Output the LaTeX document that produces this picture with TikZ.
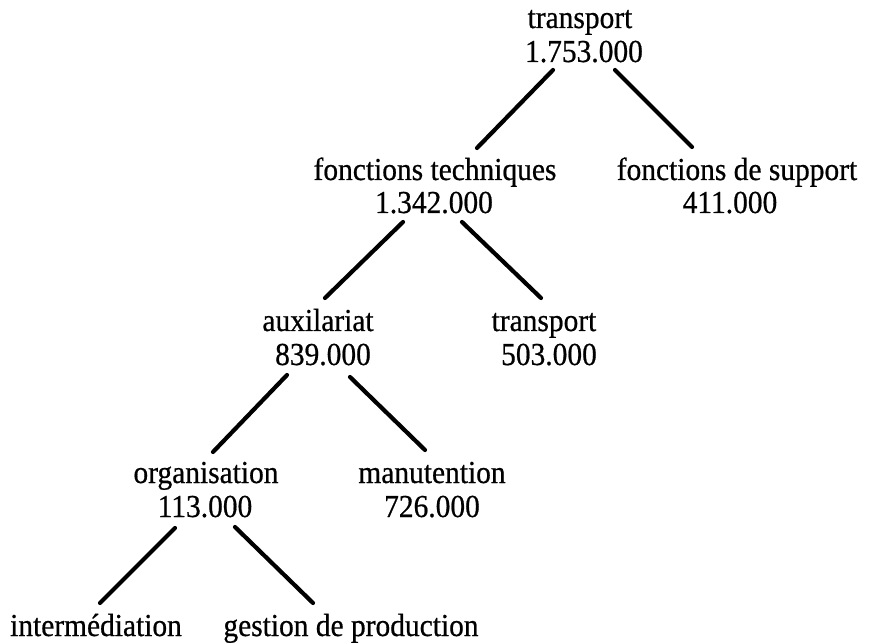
\documentclass[tikz,border=0pt]{standalone}
\usepackage{fontspec}
\setmainfont[FakeStretch=0.92,FakeBold=0.6]{Liberation Serif}
\usetikzlibrary{calc}
\begin{document}
\begin{tikzpicture}[x=1pt,y=-1pt,
  lbl/.style={anchor=base,inner sep=0pt,font=\fontsize{32}{34}\selectfont},
  edge/.style={line width=4.2pt,line cap=round}]
\useasboundingbox (0,0) rectangle (871,644);
\node[lbl] (l0) at (580,28) {transport};
\node[lbl] (v0) at (584,62) {1.753.000};
\node[lbl] (l1a) at (435,180) {fonctions techniques};
\node[lbl] (v1a) at (434,213) {1.342.000};
\node[lbl] (l1b) at (737,180) {fonctions de support};
\node[lbl] (v1b) at (730,213) {411.000};
\node[lbl] (l2a) at (318,331) {auxilariat};
\node[lbl] (v2a) at (323,365) {839.000};
\node[lbl] (l2b) at (544,331) {transport};
\node[lbl] (v2b) at (549,365) {503.000};
\node[lbl] (l3a) at (206,483) {organisation};
\node[lbl] (v3a) at (205,517) {113.000};
\node[lbl] (l3b) at (432,483) {manutention};
\node[lbl] (v3b) at (432,517) {726.000};
\node[lbl] (l4a) at (96,636) {intermédiation};
\node[lbl] (l4b) at (351,636) {gestion de production};
\draw[edge] ($(v0.base)+(-31,8)$) -- ($(l1a.base)+(42,-32)$);
\draw[edge] ($(v0.base)+(31,8)$) -- ($(l1b.base)+(-45,-33)$);
\draw[edge] ($(v1a.base)+(-31,9)$) -- ($(l2a.base)+(7,-33)$);
\draw[edge] ($(v1a.base)+(28,9)$) -- ($(l2b.base)+(-3,-33)$);
\draw[edge] ($(v2a.base)+(-36,10)$) -- ($(l3a.base)+(7,-31)$);
\draw[edge] ($(v2a.base)+(27,12)$) -- ($(l3b.base)+(-7,-33)$);
\draw[edge] ($(v3a.base)+(-30,11)$) -- ($(l4a.base)+(4,-33)$);
\draw[edge] ($(v3a.base)+(30,10)$) -- ($(l4b.base)+(-38,-33)$);
\end{tikzpicture}
\end{document}
